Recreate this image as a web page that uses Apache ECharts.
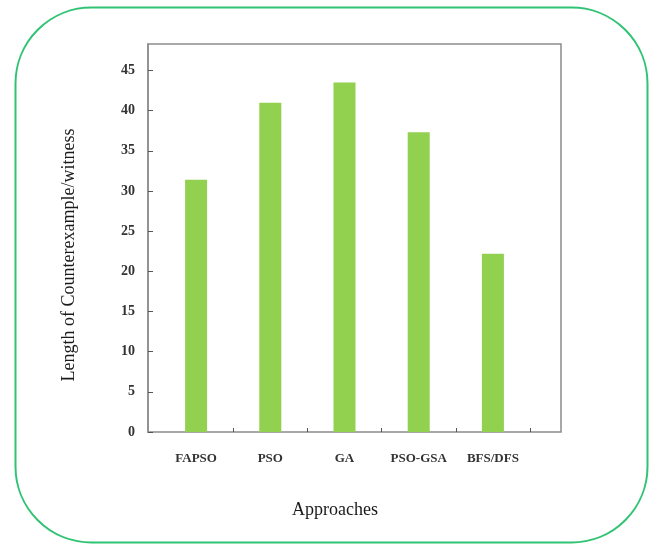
<!DOCTYPE html>
<html>
<head>
<meta charset="utf-8">
<script src="https://cdn.jsdelivr.net/npm/echarts@6/dist/echarts.min.js"></script>
<style>
html,body{margin:0;padding:0;background:#fff;}
#chart{width:654px;height:544px;}
</style>
</head>
<body>
<div id="chart"></div>
<script>
var categories = ['FAPSO', 'PSO', 'GA', 'PSO-GSA', 'BFS/DFS'];
var values = [31.4, 41.0, 43.5, 37.3, 22.2];
var yTicks = [0, 5, 10, 15, 20, 25, 30, 35, 40, 45];
var xAxisTitle = 'Approaches';
var yAxisTitle = 'Length of Counterexample/witness';

var serif = '"Liberation Serif", "Times New Roman", serif';
var chart = echarts.init(document.getElementById('chart'));
chart.setOption({
  backgroundColor: '#fff',
  animation: false,
  title: {
    text: xAxisTitle,
    left: 330, top: 496,
    textAlign: 'center',
    textStyle: { fontFamily: serif, fontSize: 18, fontWeight: 'normal', color: '#1a1a1a' }
  },
  graphic: [
    {
      type: 'rect', left: 13, top: 5, z: 0,
      shape: { width: 632, height: 535, r: 76 },
      style: { fill: 'none', stroke: '#2fc373', lineWidth: 2 }
    },
    {
      type: 'text', x: 69, y: 255, rotation: Math.PI / 2,
      style: {
        text: yAxisTitle, textAlign: 'center', textVerticalAlign: 'middle',
        font: '18px ' + serif, fill: '#1a1a1a'
      }
    }
  ],
  grid: [
    { left: 159, right: 124, top: 44, bottom: 112 },
    { left: 148, right: 93, top: 44, bottom: 112, show: true, borderColor: '#8c8c8c', borderWidth: 1.5, backgroundColor: 'transparent' }
  ],
  xAxis: [
    {
      type: 'category', gridIndex: 0, data: categories,
      axisLine: { show: false },
      axisTick: { show: true, inside: true, length: 4, lineStyle: { color: '#555' },
        interval: function (i) { return i > 0 && i < categories.length; } },
      axisLabel: { margin: 20, fontFamily: serif, fontSize: 13, fontWeight: 'bold', color: '#333' },
      splitLine: { show: false }
    },
    { type: 'value', gridIndex: 1, show: false }
  ],
  yAxis: [
    {
      type: 'value', gridIndex: 0, min: 0, max: 48.3, interval: 5, offset: 11,
      axisLine: { show: true, lineStyle: { color: '#8c8c8c', width: 1.5 } },
      axisTick: { show: true, inside: true, length: 5, lineStyle: { color: '#555' } },
      axisLabel: {
        margin: 13, fontFamily: serif, fontSize: 14, fontWeight: 'bold', color: '#333',
        showMaxLabel: false,
        formatter: function (v) { return yTicks.indexOf(v) >= 0 ? String(v) : ''; }
      },
      splitLine: { show: false }
    },
    { type: 'value', gridIndex: 1, show: false }
  ],
  series: [{
    type: 'bar', xAxisIndex: 0, yAxisIndex: 0,
    data: values, barWidth: 22,
    itemStyle: { color: '#92d050' }
  }]
});
</script>
</body>
</html>
